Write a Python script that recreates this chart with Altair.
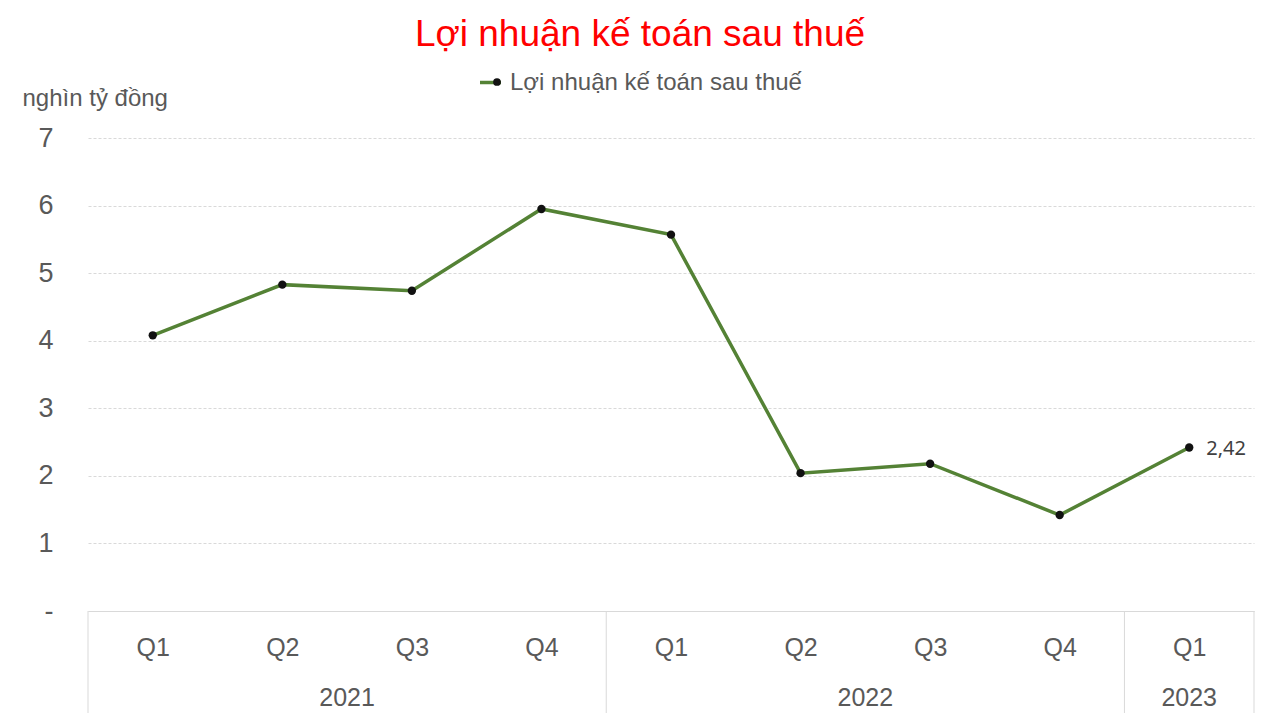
import json
import altair as alt
import pandas as pd

title_text = "Lợi nhuận kế toán sau thuế"
series_name = "Lợi nhuận kế toán sau thuế"
unit_text = "nghìn tỷ đồng"
quarters = ["Q1", "Q2", "Q3", "Q4", "Q1", "Q2", "Q3", "Q4", "Q1"]
years = ["2021", "2021", "2021", "2021", "2022", "2022", "2022", "2022", "2023"]
values = [4.08, 4.83, 4.74, 5.95, 5.57, 2.04, 2.18, 1.42, 2.42]
y_ticks = [0, 1, 2, 3, 4, 5, 6, 7]

GREEN = "#548235"
GREY_TXT = "#595959"
GRID = "#d9d9d9"
W, H = 1166, 473
PAD_TOP, PAD_BOTTOM = 130, 102

idx = list(range(len(values)))
df = pd.DataFrame({
    "idx": idx,
    "quarter": quarters,
    "year": years,
    "value": values,
    "series": [series_name] * len(values),
    "label": ["" for _ in values[:-1]] + [f"{values[-1]:.2f}".replace(".", ",")],
})

# year groups
groups = []
for y in dict.fromkeys(years):
    ii = [i for i, yy in enumerate(years) if yy == y]
    groups.append({"year": y, "mid": (ii[0] + ii[-1]) / 2, "start": ii[0] - 0.5, "end": ii[-1] + 0.5})
gdf = pd.DataFrame(groups)
bounds = sorted(set(gdf["start"]).union(set(gdf["end"])))
bdf = pd.DataFrame({"b": bounds})

xscale = alt.Scale(domain=[-0.5, len(values) - 0.5], nice=False, zero=False)
yscale = alt.Scale(domain=[0, 7], nice=False)

xaxis = alt.Axis(
    values=idx,
    labelExpr=f"{json.dumps(quarters)}[datum.value]",
    labelFont="Liberation Sans",
    labelFontSize=25,
    labelColor=GREY_TXT,
    labelPadding=24,
    ticks=False,
    grid=False,
    domain=True,
    domainColor=GRID,
    domainWidth=1,
    title=None,
)
yaxis = alt.Axis(
    values=y_ticks,
    labelExpr="datum.value == 0 ? '-' : datum.value",
    labelFont="Liberation Sans",
    labelFontSize=27,
    labelColor=GREY_TXT,
    labelPadding=35,
    ticks=False,
    domain=False,
    grid=True,
    gridColor=GRID,
    gridDash=[3, 2],
    gridWidth=1,
    title=unit_text,
    titleAngle=0,
    titleX=-66,
    titleY=-33,
    titleAlign="left",
    titleBaseline="alphabetic",
    titleFont="Liberation Sans",
    titleFontSize=24,
    titleFontWeight="normal",
    titleColor=GREY_TXT,
)

base = alt.Chart(df)

line = base.mark_line(strokeWidth=3.5).encode(
    x=alt.X("idx:Q", scale=xscale, axis=xaxis),
    y=alt.Y("value:Q", scale=yscale, axis=yaxis),
    color=alt.Color(
        "series:N",
        scale=alt.Scale(domain=[series_name], range=[GREEN]),
        legend=alt.Legend(
            title=None,
            orient="none",
            legendX=390,
            legendY=-68,
            symbolType="stroke",
            symbolSize=441,
            symbolStrokeWidth=3.5,
            labelFont="Liberation Sans",
            labelFontSize=24,
            labelColor=GREY_TXT,
            labelOffset=7,
            labelLimit=0,
            padding=0,
        ),
    ),
)

points = base.mark_point(filled=True, size=70, opacity=1).encode(
    x=alt.X("idx:Q", scale=xscale),
    y=alt.Y("value:Q", scale=yscale),
    fill=alt.Fill(
        "series:N",
        scale=alt.Scale(domain=[series_name], range=["#111111"]),
        legend=alt.Legend(
            title=None,
            orient="none",
            legendX=397,
            legendY=-68,
            symbolType="circle",
            symbolSize=60,
            symbolStrokeWidth=0,
            labelFont="Liberation Sans",
            labelFontSize=24,
            labelExpr="''",
            labelOffset=0,
            labelLimit=0,
            padding=0,
        ),
    ),
)

labels = base.mark_text(align="left", baseline="middle", dx=17, dy=2, font="Noto Sans", fontSize=20, color="#404040").encode(
    x=alt.X("idx:Q", scale=xscale),
    y=alt.Y("value:Q", scale=yscale),
    text="label:N",
)

year_text = alt.Chart(gdf).mark_text(
    baseline="alphabetic", align="center", font="Liberation Sans", fontSize=25, color=GREY_TXT
).encode(
    x=alt.X("mid:Q", scale=xscale),
    y=alt.value(H + 95),
    text="year:N",
)

seps = alt.Chart(bdf).mark_rule(color=GRID, strokeWidth=1, clip=False).encode(
    x=alt.X("b:Q", scale=xscale),
    y=alt.value(H),
    y2=alt.value(H + PAD_BOTTOM),
)

chart = alt.layer(seps, line, points, labels, year_text).resolve_legend(
    color="independent", fill="independent"
).properties(
    width=W,
    height=H,
    autosize=alt.AutoSizeParams(type="none"),
    padding={"left": 80, "top": PAD_TOP, "right": 10, "bottom": PAD_BOTTOM},
    title=alt.TitleParams(
        text=title_text,
        font="Liberation Sans",
        fontSize=37,
        fontWeight="normal",
        color="#ff0000",
        anchor="middle",
        frame="group",
        dx=-31,
        offset=16,
    ),
).configure_view(stroke=None)

chart.save("out.html", embed_options={"renderer": "svg", "actions": False})
